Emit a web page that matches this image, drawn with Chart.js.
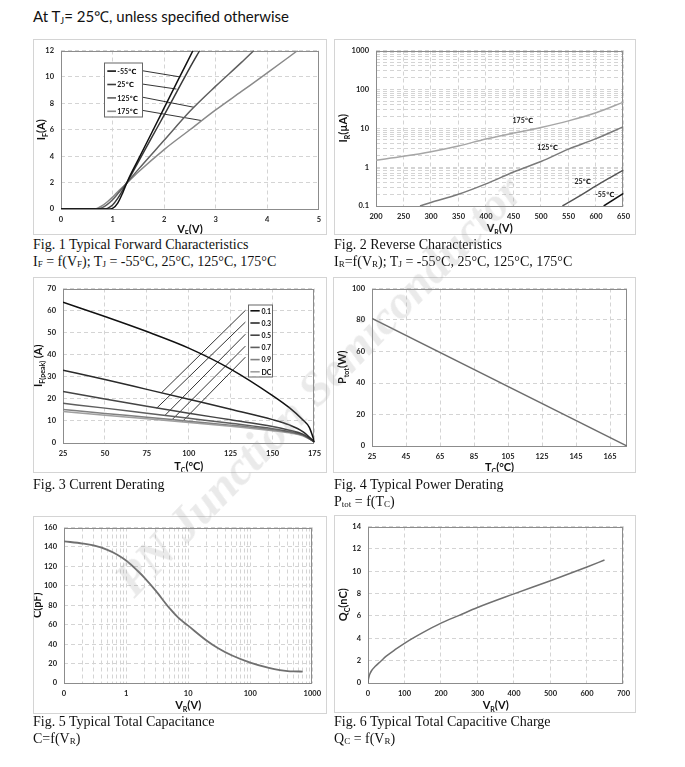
<!DOCTYPE html>
<html>
<head>
<meta charset="utf-8">
<script src="https://cdn.jsdelivr.net/npm/chart.js@4.4.1/dist/chart.umd.min.js"></script>
<style>
  body { margin: 0; background: #fff; width: 685px; height: 767px; position: relative; overflow: hidden; }
  canvas { position: absolute; outline: 1px solid #d4d4d4; outline-offset: -1px; }
  .cap { position: absolute; font-family: "Liberation Serif", "Times New Roman", serif; font-size: 14px; line-height: 17px; color: #111; white-space: nowrap; }
  .cap sub { font-size: 9px; vertical-align: -1px; }
  #head { position: absolute; left: 33px; top: 6px; font-family: Lato, sans-serif; font-size: 15px; color: #111; white-space: nowrap; }
  #head sub { font-size: 9px; vertical-align: -2px; }
  #wm { position: absolute; left: 318px; top: 385px; transform: translate(-50%, -50%) rotate(-46deg);
        font: bold italic 48px "Liberation Serif", serif; color: rgba(150,150,150,0.2); white-space: nowrap; pointer-events: none; }
</style>
</head>
<body>
<div id="head">At T<sub>J</sub>= 25℃, unless specified otherwise</div>

<canvas id="c1"></canvas>
<canvas id="c2"></canvas>
<canvas id="c3"></canvas>
<canvas id="c4"></canvas>
<canvas id="c5"></canvas>
<canvas id="c6"></canvas>

<div class="cap" style="left:33px;top:236px">Fig. 1 Typical Forward Characteristics<br>I<sub>F</sub> = f(V<sub>F</sub>); T<sub>J</sub> = -55°C, 25°C, 125°C, 175°C</div>
<div class="cap" style="left:334px;top:236px">Fig. 2 Reverse Characteristics<br>I<sub>R</sub>=f(V<sub>R</sub>); T<sub>J</sub> = -55°C, 25°C, 125°C, 175°C</div>
<div class="cap" style="left:33px;top:476px">Fig. 3 Current Derating</div>
<div class="cap" style="left:334px;top:476px">Fig. 4 Typical Power Derating<br>P<sub>tot</sub> = f(T<sub>C</sub>)</div>
<div class="cap" style="left:33px;top:713px">Fig. 5 Typical Total Capacitance<br>C=f(V<sub>R</sub>)</div>
<div class="cap" style="left:334px;top:713px">Fig. 6 Typical Total Capacitive Charge<br>Q<sub>C</sub> = f(V<sub>R</sub>)</div>

<div id="wm">PN Junction Semiconductor</div>

<script>
// Fig 1 - forward characteristics [VF, IF]
const fwdM55 = [[0,0],[0.9,0],[1.0,0.05],[1.1,0.45],[1.2,1.25],[1.3,2.2],[1.5,3.76],[1.75,5.7],[2.0,7.65],[2.25,9.6],[2.56,12]];
const fwd25  = [[0,0],[0.8,0],[0.9,0.05],[1.0,0.3],[1.1,0.8],[1.2,1.45],[1.3,2.15],[1.5,3.57],[1.75,5.35],[2.0,7.1],[2.25,8.9],[2.5,10.7],[2.69,12]];
const fwd125 = [[0,0],[0.7,0],[0.8,0.1],[0.9,0.35],[1.0,0.7],[1.1,1.15],[1.25,1.85],[1.5,3.0],[2.0,5.2],[2.5,7.4],[3.0,9.3],[3.5,11.1],[3.74,12]];
const fwd175 = [[0,0],[0.6,0],[0.7,0.05],[0.8,0.25],[0.9,0.55],[1.0,0.9],[1.1,1.3],[1.25,1.85],[1.5,2.8],[2.0,4.5],[2.5,6.0],[3.0,7.5],[3.5,8.9],[4.0,10.3],[4.59,12]];
const fwdLabels = ['-55℃', '25℃', '125℃', '175℃'];
const fwdLeaders = [[[1.56,10.48],[2.31,10.0]], [[1.56,9.47],[2.24,9.08]], [[1.56,8.48],[2.58,7.7]], [[1.56,7.48],[2.72,6.7]]];

// Fig 2 - reverse characteristics [VR, IR uA]
const rev175 = [[200,1.5],[250,1.9],[300,2.5],[350,3.5],[400,5.3],[450,7.5],[500,10.5],[550,15.5],[600,25],[650,47]];
const rev125 = [[280,0.1],[300,0.123],[350,0.2],[400,0.37],[450,0.75],[500,1.4],[550,2.9],[600,5.4],[650,11]];
const rev25  = [[539,0.1],[575,0.2],[600,0.33],[625,0.53],[650,0.84]];
const revM55 = [[614,0.1],[650,0.21]];
const revLabels = [['175℃',467,16], ['125℃',512,3.2], ['25℃',576,0.42], ['-55℃',616,0.19]];
const revYTicks = [0.1, 1, 10, 100, 1000];

// Fig 3 - current derating [TC, IF(peak)]
const drt01 = [[25,63.8],[50,57.3],[75,50.5],[100,43],[125,33.5],[150,21.5],[160,16],[168,10.5],[172,7],[175,0.5]];
const drt03 = [[25,33],[50,28.8],[75,24.3],[100,19.8],[125,15.3],[150,10.6],[160,8.2],[168,5.2],[175,0.5]];
const drt05 = [[25,23.3],[50,19.9],[75,16.6],[100,13.5],[125,10.5],[150,7.5],[160,5.8],[168,4],[175,0.5]];
const drt07 = [[25,18],[50,15.8],[75,13.5],[100,11.2],[125,8.9],[150,6.5],[160,5.2],[168,3.7],[175,0.5]];
const drt09 = [[25,15.2],[50,13.4],[75,11.7],[100,9.9],[125,8.1],[150,6.0],[160,4.9],[168,3.5],[175,0.5]];
const drtDC = [[25,14.3],[50,12.6],[75,11],[100,9.3],[125,7.6],[150,5.6],[160,4.6],[168,3.3],[175,0.5]];
const drtLabels = ['0.1', '0.3', '0.5', '0.7', '0.9', 'DC'];
const drtLeaders = [[[133.8,60.1],[83.8,22.8]], [[133.8,54.8],[80.9,15.8]], [[133.8,49.3],[85.8,12.5]], [[133.8,43.9],[90.1,10.6]], [[133.8,38.9],[96,9.6]]];

// Fig 4 - power derating [TC, Ptot]
const ptot = [[25,81],[175,0]];
const ptotXTicks = [25, 45, 65, 85, 105, 125, 145, 165];

// Fig 5 - capacitance [VR, C pF]
const cap = [[0.1,145.8],[0.2,143.5],[0.3,141.5],[0.5,137],[0.7,132.5],[1,126],[1.5,116],[2,108],[3,95],[5,77],[7,67],[10,59],
             [20,43.5],[30,36],[50,28.5],[100,21],[200,15.5],[300,13.2],[400,12.2],[500,11.9],[700,11.8]];
const capXTicks = [0.1, 1, 10, 100, 1000];

// Fig 6 - capacitive charge [VR, Qc nC]
const qc = [[0,0],[1,0.3],[3,0.6],[5,0.8],[10,1.12],[20,1.5],[35,1.95],[50,2.4],[75,3.0],[100,3.55],[150,4.5],[200,5.35],
            [250,6.05],[300,6.75],[400,7.97],[500,9.15],[600,10.38],[648,11]];

Chart.defaults.font.family = 'Lato, "DejaVu Sans", sans-serif';
Chart.defaults.animation = false;
Chart.defaults.color = '#222';

const GRID = '#d4d4d4';
const FONT = 'Lato, "DejaVu Sans", sans-serif';

function pts(arr) { return arr.map(p => ({x: p[0], y: p[1]})); }

// grid positions 1..9 per decade for log axes
function logGrid(lo, hi) {
  const out = [];
  for (let d = lo; d < hi; d *= 10) for (let m = 1; m < 10; m++) out.push(+(d * m).toPrecision(3));
  out.push(hi);
  return out;
}

function curve(data, color, width, label) {
  return {data: pts(data), showLine: true, borderColor: color, borderWidth: width || 1.5,
          pointRadius: 0, cubicInterpolationMode: 'monotone', tension: 0.4, legendText: label};
}
function leader(seg) {
  return {data: pts(seg), showLine: true, borderColor: '#000', borderWidth: 0.8, pointRadius: 0};
}

// title parts alternate normal / subscript
function drawTitle(ctx, parts, x, y) {
  const big = 'bold 11px ' + FONT, small = 'bold 7px ' + FONT;
  let total = 0;
  parts.forEach((t, i) => { ctx.font = i % 2 ? small : big; total += ctx.measureText(t).width; });
  let cx = x - total / 2;
  ctx.textAlign = 'left';
  ctx.textBaseline = 'alphabetic';
  parts.forEach((t, i) => {
    ctx.font = i % 2 ? small : big;
    ctx.fillText(t, cx, y + (i % 2 ? 2.5 : 0));
    cx += ctx.measureText(t).width;
  });
}

const decor = {
  id: 'decor',
  beforeDatasetsDraw(chart) {
    const {ctx, chartArea: a} = chart;
    ctx.save();
    ctx.strokeStyle = '#8c8c8c';
    ctx.lineWidth = 1;
    ctx.strokeRect(Math.round(a.left) + 0.5, Math.round(a.top) + 0.5, Math.round(a.right - a.left) - 1, Math.round(a.bottom - a.top) - 1);
    ctx.restore();
  },
  afterDraw(chart, args, o) {
    const {ctx, chartArea: a} = chart;
    ctx.save();
    ctx.fillStyle = '#111';
    drawTitle(ctx, o.xTitle, (a.left + a.right) / 2, a.bottom + o.xOff);
    ctx.translate(a.left + o.yOff + 4, (a.top + a.bottom) / 2);
    ctx.rotate(-Math.PI / 2);
    drawTitle(ctx, o.yTitle, 0, 0);
    ctx.restore();

    if (o.legend) {
      const L = o.legend;
      const items = chart.data.datasets.filter(d => d.legendText);
      const bx = a.left + L.x, by = a.top + L.y;
      ctx.save();
      ctx.fillStyle = '#fff';
      ctx.fillRect(bx, by, L.w, L.h);
      ctx.strokeStyle = '#666';
      ctx.lineWidth = 1;
      ctx.strokeRect(bx + 0.5, by + 0.5, L.w, L.h);
      ctx.font = 'bold 7px ' + FONT;
      ctx.textBaseline = 'middle';
      ctx.textAlign = 'left';
      items.forEach((d, i) => {
        const y = by + L.first + i * L.step;
        ctx.strokeStyle = d.borderColor;
        ctx.lineWidth = 1.6;
        ctx.beginPath(); ctx.moveTo(bx + L.l1, y); ctx.lineTo(bx + L.l2, y); ctx.stroke();
        ctx.fillStyle = '#111';
        ctx.fillText(d.legendText, bx + L.tx, y + 0.5);
      });
      ctx.restore();
    }
    if (o.labels) {
      ctx.save();
      ctx.font = 'bold 7px ' + FONT;
      ctx.fillStyle = '#222';
      ctx.textAlign = 'center';
      ctx.textBaseline = 'middle';
      o.labels.forEach(l => ctx.fillText(l[0], chart.scales.x.getPixelForValue(l[1]), chart.scales.y.getPixelForValue(l[2])));
      ctx.restore();
    }
  }
};

function scaleOpts(s, isX, size) {
  const o = {
    type: s.type || 'linear',
    min: s.min, max: s.max,
    grid: {color: GRID, drawTicks: false, lineWidth: 1},
    border: {display: false, dash: [4, 3]},
    ticks: {padding: isX ? 6 : 7, font: {size: 7.5, weight: 'bold'}, color: '#222', maxRotation: 0, autoSkip: false},
    afterFit: sc => { if (isX) sc.height = size; else sc.width = size; }
  };
  if (s.step) o.ticks.stepSize = s.step;
  if (s.label) o.ticks.callback = s.label;
  if (s.ticks) o.afterBuildTicks = sc => { sc.ticks = s.ticks.map(v => ({value: v})); };
  return o;
}

function makeChart(id, box, plot, datasets, xs, ys, deco) {
  const cv = document.getElementById(id);
  cv.width = box.w; cv.height = box.h;
  cv.style.left = box.l + 'px'; cv.style.top = box.t + 'px';
  return new Chart(cv, {
    type: 'scatter',
    data: {datasets: datasets},
    options: {
      responsive: false,
      devicePixelRatio: 1,
      layout: {padding: {top: plot.t - box.t, right: box.l + box.w - plot.r, left: 0, bottom: 0}},
      plugins: {legend: {display: false}, tooltip: {enabled: false}, decor: deco},
      scales: {x: scaleOpts(xs, true, box.t + box.h - plot.b), y: scaleOpts(ys, false, plot.l - box.l)}
    },
    plugins: [decor]
  });
}

// Fig 1
makeChart('c1', {l:33, t:39, w:294, h:196}, {l:61, t:49, r:319, b:209},
  [curve(fwdM55, '#111', 1.5, fwdLabels[0]), curve(fwd25, '#3a3a3a', 1.5, fwdLabels[1]),
   curve(fwd125, '#606060', 1.5, fwdLabels[2]), curve(fwd175, '#8a8a8a', 1.5, fwdLabels[3])]
    .concat(fwdLeaders.map(leader)),
  {min: 0, max: 5, step: 1}, {min: 0, max: 12, step: 2},
  {xTitle: ['V', 'F', '(V)'], yTitle: ['I', 'F', '(A)'], xOff: 24, yOff: -20,
   legend: {x: 43, y: 12, w: 38, h: 54, first: 8.6, step: 13.4, l1: 3.3, l2: 12, tx: 13.3}});

// Fig 2
makeChart('c2', {l:334, t:39, w:302, h:196}, {l:376, t:50, r:627, b:206},
  [curve(rev175, '#a6a6a6', 1.5), curve(rev125, '#7a7a7a', 1.5), curve(rev25, '#555', 1.5), curve(revM55, '#111', 1.5)],
  {min: 200, max: 650, step: 50},
  {type: 'logarithmic', min: 0.1, max: 1000, ticks: logGrid(0.1, 1000), label: v => revYTicks.includes(v) ? String(v) : ''},
  {xTitle: ['V', 'R', '(V)'], yTitle: ['I', 'R', '(µA)'], xOff: 26, yOff: -33, labels: revLabels});

// Fig 3
makeChart('c3', {l:33, t:277, w:294, h:196}, {l:63, t:285, r:318, b:443},
  [curve(drt01, '#111', 1.5, drtLabels[0]), curve(drt03, '#2a2a2a', 1.5, drtLabels[1]),
   curve(drt05, '#444', 1.5, drtLabels[2]), curve(drt07, '#5e5e5e', 1.5, drtLabels[3]),
   curve(drt09, '#808080', 1.5, drtLabels[4]), curve(drtDC, '#a0a0a0', 1.5, drtLabels[5])]
    .concat(drtLeaders.map(leader)),
  {min: 25, max: 175, step: 25}, {min: 0, max: 70, step: 10},
  {xTitle: ['T', 'C', '(°C)'], yTitle: ['I', 'F(peak)', ' (A)'], xOff: 27, yOff: -25,
   legend: {x: 185, y: 16, w: 24, h: 72, first: 6.3, step: 12.2, l1: 2.4, l2: 11.7, tx: 13.4}});

// Fig 4
makeChart('c4', {l:333, t:277, w:303, h:196}, {l:372, t:287, r:627, b:446},
  [curve(ptot, '#6e6e6e', 1.5)],
  {min: 25, max: 175, ticks: ptotXTicks}, {min: 0, max: 100, step: 20},
  {xTitle: ['T', 'C', '(°C)'], yTitle: ['P', 'tot', '(W)'], xOff: 25, yOff: -30});

// Fig 5
makeChart('c5', {l:33, t:516, w:294, h:198}, {l:64, t:525, r:316, b:683},
  [curve(cap, '#707070', 1.8)],
  {type: 'logarithmic', min: 0.1, max: 1000, ticks: logGrid(0.1, 1000), label: v => v === 0.1 ? '0' : (capXTicks.includes(v) ? String(v) : '')},
  {min: 0, max: 160, step: 20},
  {xTitle: ['V', 'R', '(V)'], yTitle: ['C(pF)'], xOff: 26, yOff: -27});

// Fig 6
makeChart('c6', {l:334, t:515, w:302, h:198}, {l:368, t:525, r:626, b:683},
  [curve(qc, '#707070', 1.5)],
  {min: 0, max: 700, step: 100}, {min: 0, max: 14, step: 2},
  {xTitle: ['V', 'R', '(V)'], yTitle: ['Q', 'C', '(nC)'], xOff: 26, yOff: -25});
</script>
</body>
</html>
